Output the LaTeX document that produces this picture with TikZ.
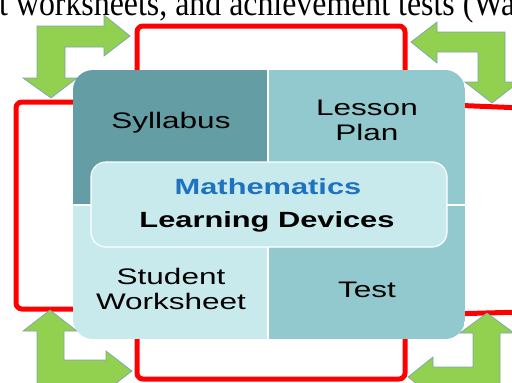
\documentclass[tikz,border=0pt]{standalone}
\usepackage{fontspec}
\newfontfamily\sansS[FakeStretch=1.4]{Liberation Sans}
\newfontfamily\serifS[FakeStretch=0.885]{Liberation Serif}
\definecolor{tealdark}{HTML}{649DA4}
\definecolor{tealmid}{HTML}{92C9CE}
\definecolor{teallight}{HTML}{C8EAEC}
\definecolor{mathblue}{HTML}{1E73BE}
\definecolor{arrowgreen}{HTML}{92D050}
\definecolor{arrowedge}{HTML}{7FA3B5}
\begin{document}
\begin{tikzpicture}[x=1pt,y=-1pt,
  bracket/.style={draw=red,line width=5pt,rounded corners=6pt},
  bentarrow/.style={fill=arrowgreen,draw=arrowedge,line width=0.7pt,line join=miter},
  lbl/.style={anchor=base,inner sep=0pt,font=\sansS\fontsize{22.5}{25}\selectfont,text=black},
  blbl/.style={lbl,font=\sansS\bfseries\fontsize{22}{25}\selectfont}]
\clip (0,0) rectangle (512,383);
% top clipped caption
\node[anchor=base west,inner sep=0pt,font=\serifS\fontsize{36}{40}\selectfont] (caption) at (-1,15) {t worksheets, and achievement tests (Wa};
% red brackets
\draw[bracket] (137,90) -- (137,26) -- (405,26) -- (405,90);
\draw[bracket] (137,320) -- (137,379) -- (405,379) -- (405,320);
\draw[bracket] (90,102) -- (16,102) -- (16,309) -- (90,309);
\draw[bracket] (450,105) -- (522,108) -- (522,312) -- (450,314);
% green bent arrows
\draw[bentarrow] (130,36) -- (104,56) -- (104,47) -- (65,47) -- (65,78) -- (77,78) -- (51,98) -- (23,78) -- (37,78) -- (37,26) -- (104,26) -- (104,15) -- cycle;
\draw[bentarrow] (411,42) -- (437,22) -- (437,32) -- (505,32) -- (505,82) -- (519,82) -- (492,103) -- (465,82) -- (478,82) -- (478,52) -- (437,52) -- (437,63) -- cycle;
\draw[bentarrow] (50,310) -- (77,331) -- (64,331) -- (64,360) -- (106,360) -- (106,351) -- (132,371) -- (106,391) -- (106,386) -- (37,386) -- (37,331) -- (23,331) -- cycle;
\draw[bentarrow] (487,313) -- (514,333) -- (500,333) -- (500,388) -- (433,388) -- (433,397) -- (408,377) -- (433,357) -- (433,367) -- (473,367) -- (473,333) -- (460,333) -- cycle;
% main rounded box
\begin{scope}
\clip[rounded corners=20pt] (73,70) rectangle (465,339);
\fill[tealdark] (73,70) rectangle (268,205);
\fill[tealmid] (268,70) rectangle (465,205);
\fill[teallight] (73,205) rectangle (268,339);
\fill[tealmid] (268,205) rectangle (465,339);
\draw[white,line width=1.2pt] (268,70) -- (268,339);
\draw[white,line width=1.2pt] (73,205) -- (465,205);
\end{scope}
\draw[white,line width=1.2pt,fill=teallight,rounded corners=15pt] (91,162) rectangle (447,247);
% labels
\node[lbl] (syl) at (171,128) {Syllabus};
\node[lbl] (les) at (367,115) {Lesson};
\node[lbl] (pla) at (367,140) {Plan};
\node[blbl,text=mathblue] (mat) at (268,194) {Mathematics};
\node[blbl] (lea) at (267,227) {Learning Devices};
\node[lbl] (stu) at (171,284) {Student};
\node[lbl] (wor) at (171,309) {Worksheet};
\node[lbl] (tes) at (367,297) {Test};
\end{tikzpicture}
\end{document}
